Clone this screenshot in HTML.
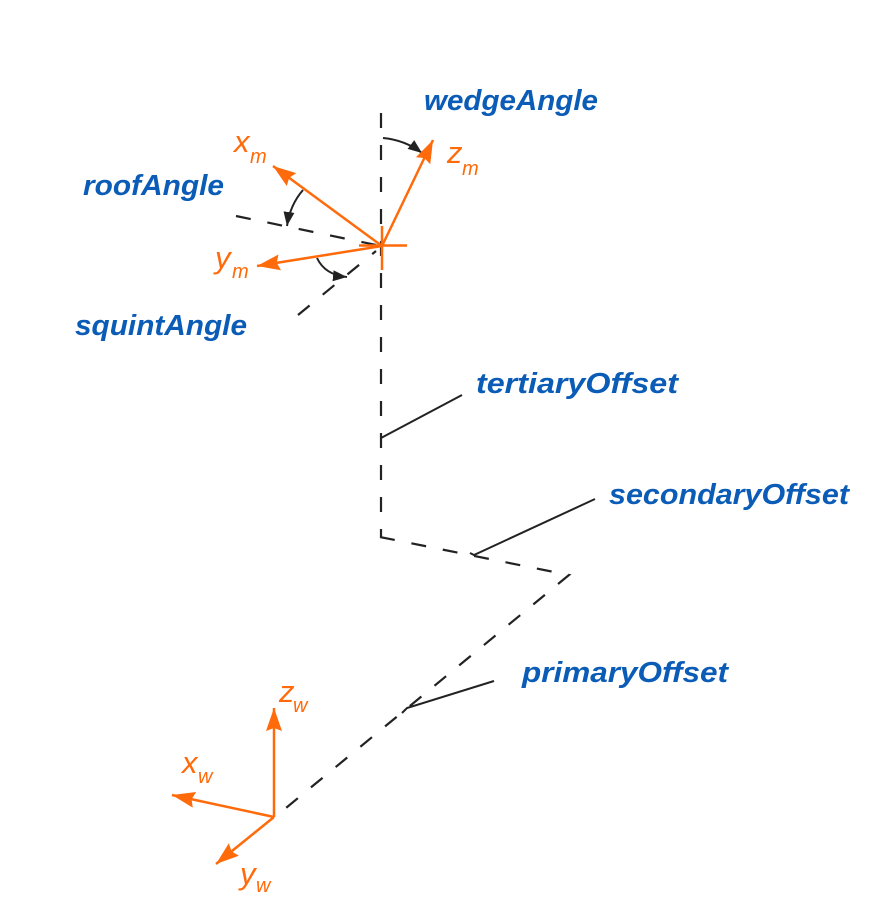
<!DOCTYPE html>
<html>
<head>
<meta charset="utf-8">
<style>
  html, body { margin: 0; padding: 0; background: #ffffff; }
  body { width: 893px; height: 924px; overflow: hidden; }
  svg { display: block; }
  .lbl { font-family: "Liberation Sans", sans-serif; font-weight: bold; font-style: italic; font-size: 29px; fill: #0b5cb6; }
  .ax { font-family: "Liberation Sans", sans-serif; font-style: italic; fill: #ff6a0a; }
  .main { font-size: 31px; }
  .sub { font-size: 20px; }
</style>
</head>
<body>
<svg width="893" height="924" viewBox="0 0 893 924" xmlns="http://www.w3.org/2000/svg">
  <defs>
    <marker id="oa" markerUnits="userSpaceOnUse" markerWidth="26" markerHeight="18" refX="23" refY="8" orient="auto">
      <path d="M0,0 L23,8 L0,16 L3,8 z" fill="#ff6a0a"/>
    </marker>
    <marker id="ba" markerUnits="userSpaceOnUse" markerWidth="16" markerHeight="12" refX="14" refY="5.5" orient="auto">
      <path d="M0,0 L14,5.5 L0,11 z" fill="#222"/>
    </marker>
  </defs>

  <!-- black dashed path -->
  <g stroke="#222" stroke-width="2.2" fill="none" stroke-dasharray="15 17">
    <line x1="381" y1="113" x2="381" y2="537"/>
    <polyline points="380,537 569,575 275,817"/>
    <line x1="236" y1="216" x2="381" y2="246"/>
    <line x1="298" y1="315" x2="376" y2="251"/>
  </g>

  <!-- leader lines -->
  <g stroke="#222" stroke-width="2" fill="none">
    <line x1="381" y1="438" x2="462" y2="395"/>
    <polyline points="470,553 474,555 595,499"/>
    <polyline points="402,713 407,708 494,681"/>
  </g>

  <!-- angle arcs -->
  <g stroke="#222" stroke-width="2" fill="none">
    <path d="M383,138 Q405,140 422,153" marker-end="url(#ba)"/>
    <path d="M303,190 Q290,205 287,226" marker-end="url(#ba)"/>
    <path d="M317,258 Q325,275 347,277" marker-end="url(#ba)"/>
  </g>

  <!-- model frame -->
  <g stroke="#ff6a0a" stroke-width="2.5" fill="none">
    <line x1="359" y1="245.5" x2="407" y2="245.5"/>
    <line x1="382" y1="226" x2="382" y2="270"/>
    <line x1="382" y1="246" x2="433" y2="140" marker-end="url(#oa)"/>
    <line x1="382" y1="246" x2="273" y2="166" marker-end="url(#oa)"/>
    <line x1="382" y1="246" x2="257" y2="266" marker-end="url(#oa)"/>
  </g>

  <!-- world frame -->
  <g stroke="#ff6a0a" stroke-width="2.5" fill="none">
    <line x1="274" y1="817" x2="274" y2="708" marker-end="url(#oa)"/>
    <line x1="274" y1="817" x2="172" y2="795" marker-end="url(#oa)"/>
    <line x1="274" y1="817" x2="216" y2="864" marker-end="url(#oa)"/>
  </g>

  <!-- axis labels -->
  <text class="ax main" x="234" y="152">x</text><text class="ax sub" x="250" y="163">m</text>
  <text class="ax main" x="447" y="163">z</text><text class="ax sub" x="462" y="175">m</text>
  <text class="ax main" x="215" y="268">y</text><text class="ax sub" x="232" y="278">m</text>
  <text class="ax main" x="279" y="702">z</text><text class="ax sub" x="293" y="712">w</text>
  <text class="ax main" x="182" y="773">x</text><text class="ax sub" x="198" y="783">w</text>
  <text class="ax main" x="240" y="884">y</text><text class="ax sub" x="256" y="892">w</text>

  <!-- blue labels -->
  <text class="lbl" x="424" y="110" textLength="174" lengthAdjust="spacingAndGlyphs">wedgeAngle</text>
  <text class="lbl" x="83" y="195" textLength="141" lengthAdjust="spacingAndGlyphs">roofAngle</text>
  <text class="lbl" x="75" y="335" textLength="172" lengthAdjust="spacingAndGlyphs">squintAngle</text>
  <text class="lbl" x="476" y="393" textLength="202" lengthAdjust="spacingAndGlyphs">tertiaryOffset</text>
  <text class="lbl" x="609" y="504" textLength="240" lengthAdjust="spacingAndGlyphs">secondaryOffset</text>
  <text class="lbl" x="522" y="682" textLength="206" lengthAdjust="spacingAndGlyphs">primaryOffset</text>
</svg>
</body>
</html>
